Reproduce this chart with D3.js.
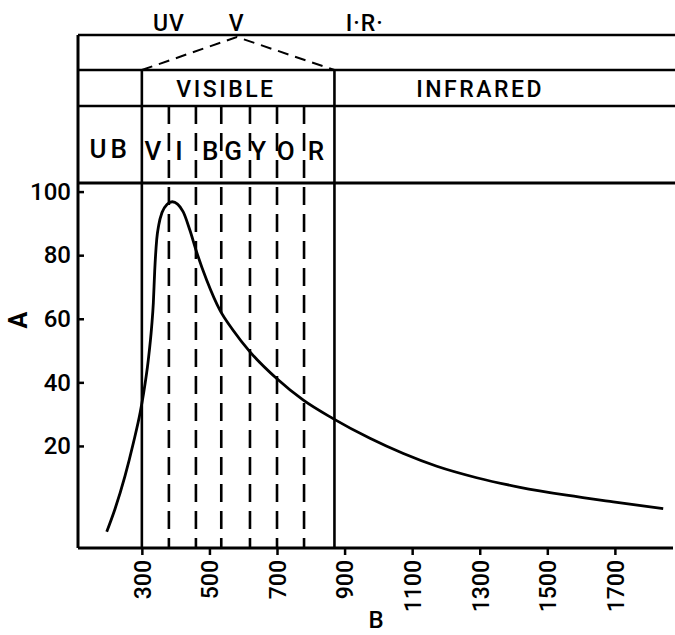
<!DOCTYPE html>
<html>
<head>
<meta charset="utf-8">
<script src="https://cdn.jsdelivr.net/npm/d3@7"></script>
<style>
  html, body { margin: 0; padding: 0; background: #fff; }
  svg { display: block; }
  text { font-family: Roboto, "DejaVu Sans", sans-serif; fill: #000; font-weight: 500; }
</style>
</head>
<body>
<svg id="chart" width="675" height="635"></svg>
<script>
// ---- data ----
const xTicks = [300, 500, 700, 900, 1100, 1300, 1500, 1700];
const yTicks = [20, 40, 60, 80, 100];
const curveX = [196, 220, 250, 275, 295, 305, 319, 329, 334, 338, 344, 350, 360, 375, 390, 422, 442, 462, 492, 531, 570, 620, 699, 778, 866, 975, 1074, 1173, 1291, 1419, 1557, 1695, 1843];
const curveY = [-7, 0, 10.5, 21, 30.5, 36.5, 47, 57.5, 65, 75, 85, 89.5, 93.5, 96, 96.8, 93.7, 87.9, 81, 72.1, 62.7, 56.4, 49.6, 41.2, 34.4, 28.6, 22.4, 17.6, 13.6, 10.0, 7.0, 4.5, 2.4, 0.3];
const visibleEdges = [300, 870];
const colourEdges = [380, 460, 535, 620, 700, 780];
const colourLetters = ["V", "I", "B", "G", "Y", "O", "R"];
const colourLetterAt = [333, 410, 502, 570, 644, 726, 815];
const topLabels = ["UV", "V", "I·R·"];
const topLabelAt = [380, 581, 960];
const bandLabels = ["VISIBLE", "INFRARED"];
const bandLabelAt = [549, 1301];
const regionLabel = "UB";
const regionLabelAt = 206;
const vApex = 581;
const xTitle = "B";
const yTitle = "A";

// ---- layout ----
const W = 675, H = 635;
const left = 78, right = 673, bottom = 548, plotTop = 183;
const rowTop = 35, rowVis = 70, rowColours = 106;

const svg = d3.select("#chart");
const x = d3.scaleLinear().domain([111, 1872]).range([left, right]);
const y = d3.scaleLinear().domain([-12.1, 102.7]).range([bottom, plotTop]);

const lw = 2.6;
const g = svg.append("g");

// header horizontal lines
[rowTop, rowVis, rowColours].forEach(yy => {
  g.append("line").attr("x1", left).attr("x2", W).attr("y1", yy).attr("y2", yy)
    .attr("stroke", "#000").attr("stroke-width", lw);
});
// plot top line
g.append("line").attr("x1", left).attr("x2", W).attr("y1", plotTop).attr("y2", plotTop)
  .attr("stroke", "#000").attr("stroke-width", 3);

// left border continuing from header
g.append("line").attr("x1", left).attr("x2", left).attr("y1", rowTop).attr("y2", bottom)
  .attr("stroke", "#000").attr("stroke-width", 3);

// visible region borders
visibleEdges.forEach(v => {
  g.append("line").attr("x1", x(v)).attr("x2", x(v)).attr("y1", rowVis).attr("y2", bottom)
    .attr("stroke", "#000").attr("stroke-width", lw);
});
// colour dashed lines
colourEdges.forEach(v => {
  g.append("line").attr("x1", x(v)).attr("x2", x(v)).attr("y1", rowColours).attr("y2", bottom)
    .attr("stroke", "#000").attr("stroke-width", 2.6).attr("stroke-dasharray", "18,9");
});
// dashed V
g.append("path")
  .attr("d", d3.line()([[x(visibleEdges[0]), rowVis], [x(vApex), rowTop + 2], [x(visibleEdges[1]), rowVis]]))
  .attr("fill", "none").attr("stroke", "#000").attr("stroke-width", 2).attr("stroke-dasharray", "11,7");

// axes
const yAxis = d3.axisLeft(y).tickValues(yTicks).tickSize(-6).tickPadding(7).tickFormat(d3.format("d"));
const ya = svg.append("g").attr("transform", `translate(${left},0)`).call(yAxis);
ya.select(".domain").remove();
ya.selectAll(".tick line").attr("stroke", "#000").attr("stroke-width", 2.5);
ya.selectAll(".tick text").style("font-size", "24px").attr("font-family", "Roboto, sans-serif");

const xAxis = d3.axisBottom(x).tickValues(xTicks).tickSize(7).tickPadding(4).tickFormat(d3.format("d"));
const xa = svg.append("g").attr("transform", `translate(0,${bottom})`).call(xAxis);
xa.select(".domain").attr("d", `M${left},0H${right}`).attr("stroke", "#000").attr("stroke-width", 3);
xa.selectAll(".tick line").attr("stroke", "#000").attr("stroke-width", 2.5);
xa.selectAll(".tick text")
  .style("font-size", "23px").attr("font-family", "Roboto, sans-serif")
  .attr("text-anchor", "end")
  .attr("transform", "rotate(-90)")
  .attr("x", -12).attr("y", 0).attr("dy", "0.36em");

// curve
const pts = curveX.map((v, i) => [x(v), y(curveY[i])]);
svg.append("path")
  .attr("d", d3.line().curve(d3.curveMonotoneX)(pts))
  .attr("fill", "none").attr("stroke", "#000").attr("stroke-width", 2.8);

// header text
topLabels.forEach((t, i) => {
  svg.append("text").attr("x", x(topLabelAt[i])).attr("y", 31).attr("text-anchor", "middle")
    .style("font-size", "23px").style("letter-spacing", "1px").text(t);
});
bandLabels.forEach((t, i) => {
  svg.append("text").attr("x", x(bandLabelAt[i])).attr("y", 97).attr("text-anchor", "middle")
    .style("font-size", "23px").style("letter-spacing", "2.5px").text(t);
});
svg.append("text").attr("x", x(regionLabelAt)).attr("y", 158).attr("text-anchor", "middle")
  .style("font-size", "26px").style("letter-spacing", "4px").text(regionLabel);
colourLetters.forEach((t, i) => {
  svg.append("text").attr("x", x(colourLetterAt[i])).attr("y", 160).attr("text-anchor", "middle")
    .style("font-size", "26px").text(t);
});

// axis titles
svg.append("text").attr("x", 376).attr("y", 628).attr("text-anchor", "middle")
  .style("font-size", "24px").text(xTitle);
svg.append("text").attr("transform", "translate(27,320) rotate(-90)").attr("text-anchor", "middle")
  .style("font-size", "25px").style("font-weight", "bold").text(yTitle);
</script>
</body>
</html>
